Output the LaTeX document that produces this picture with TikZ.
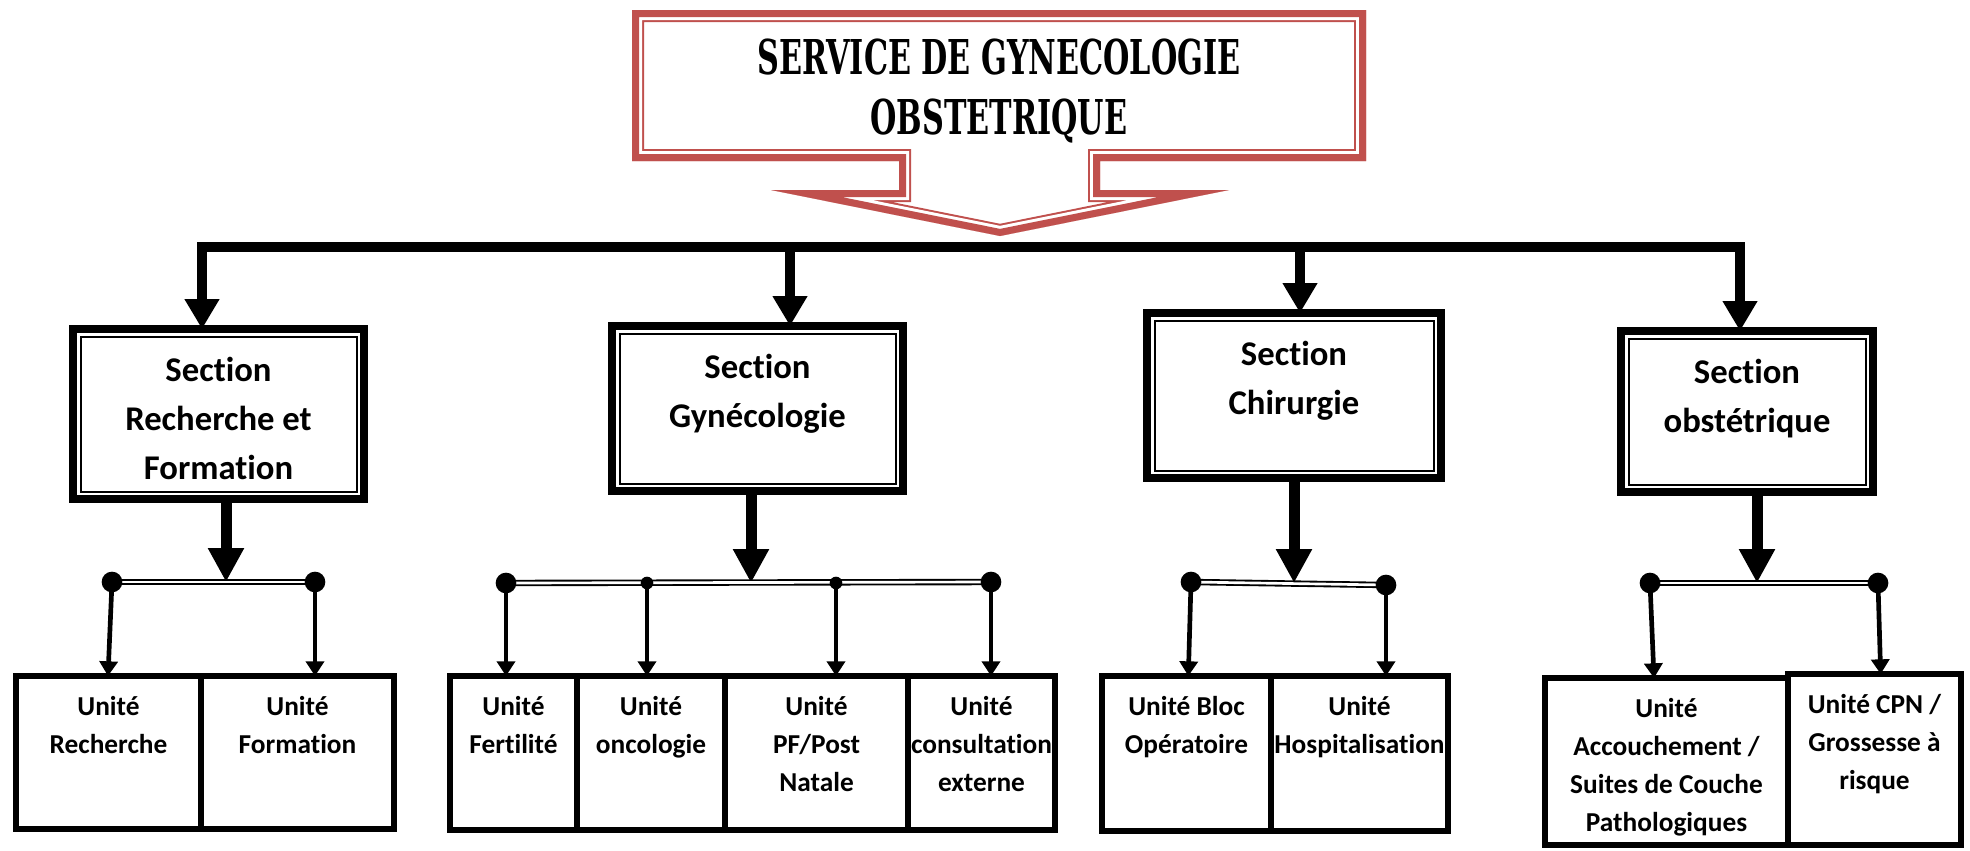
\documentclass[tikz,border=0pt]{standalone}
\usepackage{fontspec}
\setmainfont{Carlito}[Ligatures=NoCommon]
\newfontfamily\titlefont{DejaVu Serif}
\usetikzlibrary{arrows.meta,positioning,fit}
\definecolor{titlered}{HTML}{C0504D}

\newcommand\calloutshape{(632,10) -- (1366,10) -- (1366,161) -- (1100,161) -- (1100,190)
  -- (1229,190) -- (1000,236) -- (771,190) -- (899,190) -- (899,161) -- (632,161) -- cycle}

\tikzset{
  sectbox/.style={draw, line width=6pt, inner sep=0pt, outer sep=0pt},
  unitbox/.style={draw, line width=4.5pt, inner sep=0pt, outer sep=0pt},
  titletext/.style={align=center, inner sep=0pt, font=\titlefont\fontsize{36}{45}\selectfont\bfseries},
  secttext/.style={anchor=north, align=center, inner sep=0pt, font=\fontsize{26}{36.75}\selectfont\bfseries},
  unittext/.style={anchor=north, align=center, inner sep=0pt, font=\fontsize{20.5}{28.5}\selectfont\bfseries},
  dot/.style={circle, fill, inner sep=0pt, minimum size=15.5pt},
  smalldot/.style={circle, fill, inner sep=0pt, minimum size=9.5pt},
  busline/.style={line width=7.5pt, line cap=rect},
  droparrow/.style={line width=7.5pt, -{Triangle[width=24.75pt,length=22.5pt]}},
  sectarrow/.style={line width=8.25pt, -{Triangle[width=25.5pt,length=25.5pt]}},
  unitarrow/.style={line width=3.5pt, -{Triangle[width=13.5pt,length=11pt]}},
  subbus/.style={line width=1.4pt, double=white, double distance=2pt},
}

\begin{document}
\begin{tikzpicture}[x=0.75pt, y=-0.75pt]
\useasboundingbox (0,0) rectangle (1970,850);

% service (red arrow box)
\begin{scope}
  \clip \calloutshape;
  \foreach \w/\c in {18pt/titlered, 15pt/white, 10.5pt/titlered}
    \draw[\c, line width=\w, line join=miter] \calloutshape;
\end{scope}
\node[titletext] (title) at (999,91)
  {\scalebox{0.63}[1]{SERVICE DE GYNECOLOGIE}\\\scalebox{0.63}[1]{OBSTETRIQUE}};

% sections
\node[sectbox, fit={(73,329) (364,499)}] (secRF) {};
\node[sectbox, fit={(612,326) (903,491)}] (secGy) {};
\node[sectbox, fit={(1147,313) (1441,478)}] (secCh) {};
\node[sectbox, fit={(1621,331) (1873,492)}] (secOb) {};
\foreach \s in {secRF,secGy,secCh,secOb}
  \draw[line width=1.5pt] ([shift={(7.5,7.5)}]\s.north west) rectangle ([shift={(-7.5,-7.5)}]\s.south east);

\node[secttext] (tRF) at ([yshift=-21pt]secRF.north) {Section\\Recherche et\\Formation};
\node[secttext] (tGy) at ([yshift=-21pt]secGy.north) {Section\\Gynécologie};
\node[secttext] (tCh) at ([yshift=-21pt]secCh.north) {Section\\Chirurgie};
\node[secttext] (tOb) at ([yshift=-21pt]secOb.north) {Section\\obstétrique};

% units
\node[unitbox, fit={(16,676) (201,829)}] (uRech) {};
\node[unitbox, fit={(201,676) (394,829)}] (uForm) {};
\node[unitbox, fit={(450,676) (577,830)}] (uFert) {};
\node[unitbox, fit={(577,676) (725,830)}] (uOnco) {};
\node[unitbox, fit={(725,676) (908,830)}] (uPF) {};
\node[unitbox, fit={(908,676) (1055,830)}] (uCons) {};
\node[unitbox, fit={(1102,676) (1271,831)}] (uBloc) {};
\node[unitbox, fit={(1271,676) (1448,831)}] (uHosp) {};
\node[unitbox, fit={(1545,678) (1788,845)}] (uAcc) {};
\node[unitbox, fit={(1788,674) (1961,845)}] (uCPN) {};

\node[unittext] (tRech) at ([yshift=-15pt]uRech.north) {Unité\\Recherche};
\node[unittext] (tForm) at ([yshift=-15pt]uForm.north) {Unité\\Formation};
\node[unittext] (tFert) at ([yshift=-15pt]uFert.north) {Unité\\Fertilité};
\node[unittext] (tOnco) at ([yshift=-15pt]uOnco.north) {Unité\\oncologie};
\node[unittext] (tPF) at ([yshift=-15pt]uPF.north) {Unité\\PF/Post\\Natale};
\node[unittext] (tCons) at ([yshift=-15pt]uCons.north) {Unité\\consultation\\externe};
\node[unittext] (tBloc) at ([yshift=-15pt]uBloc.north) {Unité Bloc\\Opératoire};
\node[unittext] (tHosp) at ([yshift=-15pt]uHosp.north) {Unité\\Hospitalisation};
\node[unittext] (tAcc) at ([yshift=-15pt]uAcc.north) {Unité\\Accouchement /\\Suites de Couche\\Pathologiques};
\node[unittext] (tCPN) at ([yshift=-15pt]uCPN.north) {Unité CPN /\\Grossesse à\\risque};

% main bus
\coordinate (b1) at (202,247);
\coordinate (b2) at (790,247);
\coordinate (b3) at (1300,247);
\coordinate (b4) at (1740,247);
\draw[busline] (b1) -- (b4);
\foreach \b/\s in {b1/secRF, b2/secGy, b3/secCh, b4/secOb}
  \draw[droparrow] (\b) -- (\b |- \s.north);

% section -> units
\coordinate (m1) at (226,582);
\coordinate (m2) at (751,583);
\coordinate (m3) at (1294,583);
\coordinate (m4) at (1757,583);
\foreach \m/\s in {m1/secRF, m2/secGy, m3/secCh, m4/secOb}
  \draw[sectarrow] (\m |- \s.south) -- (\m);

\coordinate (g1a) at (112,582);
\coordinate (g1b) at (315,582);
\coordinate (g2a) at (506,583);
\coordinate (g2b) at (647,583);
\coordinate (g2c) at (836,583);
\coordinate (g2d) at (991,582);
\coordinate (g3a) at (1191,582);
\coordinate (g3b) at (1386,585);
\coordinate (g4a) at (1650,583);
\coordinate (g4b) at (1878,583);
\draw[subbus] (g1a) -- (g1b);
\draw[subbus] (g2a) -- (g2d);
\draw[subbus] (g3a) -- (g3b);
\draw[subbus] (g4a) -- (g4b);

\draw[unitarrow] (g1a) -- ([xshift=-3pt]g1a |- uRech.north);
\draw[unitarrow] (g1b) -- (g1b |- uForm.north);
\draw[unitarrow] (g2a) -- (g2a |- uFert.north);
\draw[unitarrow] (g2b) -- (g2b |- uOnco.north);
\draw[unitarrow] (g2c) -- (g2c |- uPF.north);
\draw[unitarrow] (g2d) -- (g2d |- uCons.north);
\draw[unitarrow] (g3a) -- ([xshift=-2pt]g3a |- uBloc.north);
\draw[unitarrow] (g3b) -- (g3b |- uHosp.north);
\draw[unitarrow] (g4a) -- ([xshift=3pt]g4a |- uAcc.north);
\draw[unitarrow] (g4b) -- ([xshift=2pt]g4b |- uCPN.north);

\foreach \g in {g1a,g1b,g2a,g2d,g3a,g3b,g4a,g4b}
  \node[dot] at (\g) {};
\foreach \g in {g2b,g2c}
  \node[smalldot] at (\g) {};
\end{tikzpicture}
\end{document}
